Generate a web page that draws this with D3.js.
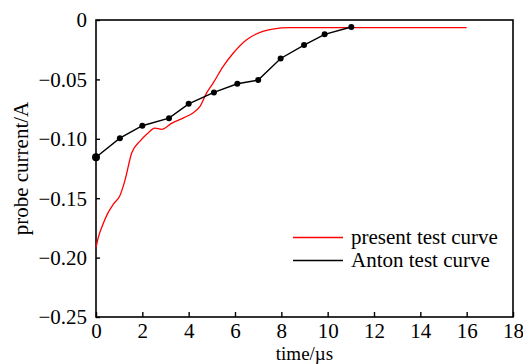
<!DOCTYPE html>
<html><head><meta charset="utf-8">
<script src="https://cdn.jsdelivr.net/npm/d3@7"></script>
<style>body{margin:0;background:#fff}svg{display:block}text{font-family:"Liberation Serif","Times New Roman",serif}</style>
</head><body><svg id="c" width="523" height="364"></svg>
<script>
const presentT = [0,0.1,0.3,0.5,0.75,1.03,1.25,1.54,1.9,2.2,2.54,2.83,3.26,3.82,4.2,4.48,4.77,5.06,5.49,5.92,6.5,7.2,7.63,8.36,10,12,14,16];
const presentI = [-0.1917,-0.183,-0.172,-0.163,-0.155,-0.148,-0.135,-0.112,-0.102,-0.096,-0.091,-0.092,-0.087,-0.082,-0.078,-0.073,-0.0616,-0.053,-0.039,-0.028,-0.0166,-0.0096,-0.0076,-0.0065,-0.0065,-0.0065,-0.0065,-0.0065];
const antonT = [0,1.03,2.0,3.15,4.0,5.09,6.1,7.0,7.97,8.98,9.87,11.02];
const antonI = [-0.1155,-0.0995,-0.089,-0.0826,-0.0706,-0.061,-0.0537,-0.0506,-0.0324,-0.0211,-0.0121,-0.0059];
const xTicks = [0,2,4,6,8,10,12,14,16,18];
const yTicks = [0,-0.05,-0.10,-0.15,-0.20,-0.25];
const yTickLabels = ["0","\u22120.05","\u22120.10","\u22120.15","\u22120.20","\u22120.25"];
const seriesNames = ["present test curve","Anton test curve"];

const svg = d3.select("#c");
const L=96,R=513,T=20,B=317;
const FS=21;
const x = d3.scaleLinear().domain([0,18]).range([L,R]);
const y = d3.scaleLinear().domain([-0.25,0]).range([B,T]);

svg.append("rect").attr("x",L).attr("y",T).attr("width",R-L).attr("height",B-T)
  .attr("fill","none").attr("stroke","#000").attr("stroke-width",1.6);

const xa = svg.append("g").attr("transform",`translate(0,${B})`)
  .call(d3.axisBottom(x).tickValues(xTicks).tickSizeInner(-5).tickSizeOuter(0).tickPadding(6).tickFormat(d3.format("d")));
const ya = svg.append("g").attr("transform",`translate(${L},0)`)
  .call(d3.axisLeft(y).tickValues(yTicks).tickSizeInner(-4).tickSizeOuter(0).tickPadding(9).tickFormat((d,i)=>yTickLabels[i]));
[xa,ya].forEach(g=>{
  g.attr("font-family",null).attr("font-size",null);
  g.select(".domain").remove();
  g.selectAll(".tick line").attr("stroke","#000").attr("stroke-width",1.4);
  g.selectAll("text").attr("font-size",FS).attr("fill","#000");
});
xa.selectAll("text").attr("dy","0.71em");
ya.selectAll("text").attr("dy","0.33em");

const line = d3.line().x(d=>x(d[0])).y(d=>y(d[1])).curve(d3.curveMonotoneX);
const pres = presentT.map((t,i)=>[t,presentI[i]]);
const ant = antonT.map((t,i)=>[t,antonI[i]]);
svg.append("path").attr("d",line(pres)).attr("fill","none").attr("stroke","#ff0000").attr("stroke-width",1.3);
svg.append("path").attr("d",d3.line().x(d=>x(d[0])).y(d=>y(d[1]))(ant)).attr("fill","none").attr("stroke","#000").attr("stroke-width",1.4);
svg.selectAll("circle.m").data(ant).enter().append("circle")
  .attr("cx",d=>x(d[0])).attr("cy",d=>y(d[1])).attr("r",(d,i)=>i===0?4:3).attr("fill","#000");

const lg = svg.append("g");
const colors = ["#ff0000","#000"];
seriesNames.forEach((n,i)=>{
  const yy = 237.5 + i*23;
  lg.append("line").attr("x1",293).attr("x2",343).attr("y1",yy).attr("y2",yy).attr("stroke",colors[i]).attr("stroke-width",1.4);
  lg.append("text").attr("x",351).attr("y",yy).attr("dy","0.32em").attr("font-size",FS).text(n);
});

svg.append("text").attr("x",(L+R)/2).attr("y",359.5).attr("text-anchor","middle").attr("font-size",19).text("time/\u00b5s");
svg.append("text").attr("transform",`translate(28,${(T+B)/2}) rotate(-90)`).attr("text-anchor","middle").attr("font-size",FS).text("probe current/A");
</script></body></html>
